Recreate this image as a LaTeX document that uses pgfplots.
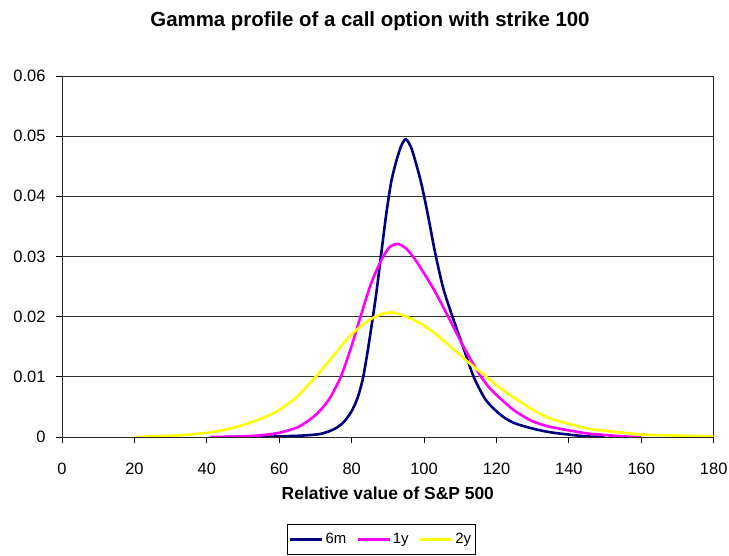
\documentclass[border=0pt]{standalone}
\usepackage{pgfplots}
\pgfplotsset{compat=1.18}
\usepackage{fontspec}
\setmainfont{Liberation Sans}
\definecolor{c6m}{HTML}{000080}
\definecolor{c1y}{HTML}{FF00FF}
\definecolor{c2y}{HTML}{FFFF00}
\begin{document}
\begin{tikzpicture}
\useasboundingbox (0,0) rectangle (729bp,556bp);
\node[anchor=base, font=\fontsize{20.5}{24}\selectfont\bfseries] at (370bp,529.5bp) {Gamma profile of a call option with strike 100};
\begin{axis}[
  at={(62bp,119bp)}, anchor=south west,
  scale only axis, width=651.7bp, height=361bp,
  xmin=0, xmax=180, ymin=0, ymax=0.06,
  xtick={0,20,...,180},
  ytick={0,0.01,0.02,0.03,0.04,0.05,0.06},
  yticklabels={0,0.01,0.02,0.03,0.04,0.05,0.06},
  scaled y ticks=false,
  /pgf/number format/assume math mode=true,
  xtick pos=bottom, ytick pos=left,
  tick align=outside,
  major tick length=6bp,
  tick style={black, line width=0.9bp},
  ymajorgrids,
  grid style={black!80, line width=1bp},
  axis line style={black!85, line width=1bp},
  ticklabel style={font=\fontsize{16.5}{19}\selectfont},
  xticklabel style={yshift=-17bp},
  yticklabel style={xshift=-7bp},
  xlabel={Relative value of S\&P 500},
  xlabel style={font=\fontsize{17.5}{20}\selectfont\bfseries, at={(axis description cs:0.5,-0.1745)}, anchor=base},
  legend columns=3,
  legend style={at={(axis description cs:0.4895,-0.2840)}, anchor=center, draw=black, line width=0.8bp,
    font=\fontsize{15}{17}\selectfont, inner xsep=2bp, inner ysep=7bp,
    /tikz/every even column/.append style={column sep=8bp}},
  legend image code/.code={\draw[#1, line width=2.6bp] (0bp,0bp) -- (32bp,0bp);},
  clip=true,
]
\addplot[c6m, line width=2.6bp, smooth, tension=0.45] coordinates {
(45,0) (55,0.00003) (60,0.0001) (65,0.0002) (68,0.0003) (71.3,0.0005) (74,0.0010) (76,0.0016) (78,0.0026)
(80,0.0043) (81.7,0.0066) (83.2,0.0100) (84.8,0.0157) (86.7,0.0234) (88.1,0.0301) (89.5,0.0368) (90.9,0.0423)
(92.3,0.0458) (93.7,0.0484) (95.0,0.0495) (96.5,0.0480) (97.9,0.0452) (99.3,0.0420) (101.1,0.0368)
(103,0.0308) (105.4,0.0245) (108.7,0.0185) (111,0.0146) (113.7,0.0100) (117,0.0062)
(120.5,0.0040) (123,0.0029) (125.4,0.0022) (130,0.0014) (134.7,0.0008) (140,0.0004) (145,0.0001) (150,0)
};
\addlegendentry{6m}
\addplot[c1y, line width=2.6bp, smooth, tension=0.45] coordinates {
(41,0) (50,0.0001) (55,0.0003) (60,0.0007) (65,0.0016) (68,0.0027) (71,0.0042) (74,0.0065) (77,0.0100) (79.7,0.0146)
(82.5,0.0201) (85.3,0.0254) (88.1,0.0293) (90.4,0.0315) (92.7,0.0321) (95.1,0.0313) (97.4,0.0296)
(100,0.0272) (103,0.0242) (106.4,0.0203) (111,0.0149) (115.1,0.0106) (118,0.0082) (121.6,0.0061)
(125.4,0.0042) (130,0.0026) (134.7,0.0017) (140,0.0011) (145,0.0006) (150.5,0.0003) (155,0.0001) (160,0)
};
\addlegendentry{1y}
\addplot[c2y, line width=2.6bp, smooth, tension=0.45] coordinates {
(20.5,0) (25,0.0001) (30,0.0002) (35,0.0004) (40,0.0007) (45,0.0012) (48.3,0.0017) (52,0.0024) (56,0.0033)
(60,0.0045) (64.9,0.0067) (69.9,0.0099) (74.1,0.0129) (77.1,0.0151) (79.7,0.0169) (82.5,0.0184)
(85.3,0.0196) (88.1,0.0204) (90.4,0.0207) (92.7,0.0205) (97.4,0.0194) (101.7,0.0178) (105,0.0162)
(108.7,0.0143) (111.7,0.0127) (114.5,0.0113) (117.4,0.0099) (121.1,0.0081) (125.7,0.0062) (130,0.0045) (134.7,0.0031)
(140,0.0022) (145,0.0014) (150.5,0.0010) (155,0.0007) (160,0.0004) (166,0.0003) (172.8,0.0002) (180,0.0001)
};
\addlegendentry{2y}
\end{axis}
\end{tikzpicture}
\end{document}
